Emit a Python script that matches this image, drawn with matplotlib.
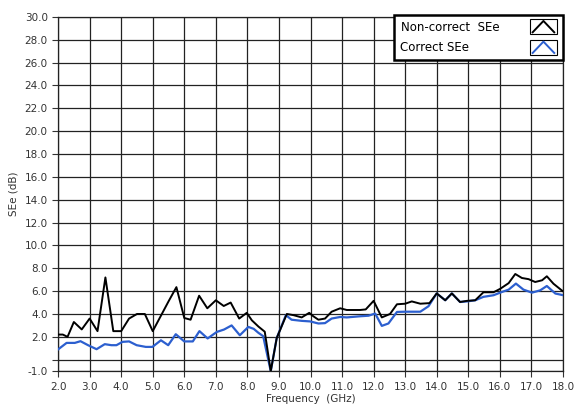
import matplotlib
matplotlib.use("Agg")
import matplotlib.pyplot as plt
import numpy as np
from matplotlib.legend_handler import HandlerBase
from matplotlib.lines import Line2D
from matplotlib.patches import Rectangle

# Non-correct SEe (black trace)
freq_raw = [2.0, 2.15, 2.3, 2.5, 2.75, 3.0, 3.25, 3.5, 3.75, 4.0, 4.25, 4.5, 4.75,
            5.0, 5.25, 5.5, 5.75, 6.0, 6.2, 6.47, 6.73, 7.0, 7.25, 7.47, 7.74, 7.98,
            8.14, 8.35, 8.55, 8.74, 8.93, 9.25, 9.46, 9.72, 9.96, 10.09, 10.25, 10.46,
            10.67, 10.94, 11.15, 11.57, 11.75, 12.0, 12.26, 12.52, 12.74, 13.0, 13.21,
            13.48, 13.77, 14.0, 14.27, 14.48, 14.74, 14.96, 15.22, 15.48, 15.8, 16.01,
            16.28, 16.49, 16.7, 16.91, 17.12, 17.34, 17.49, 17.7, 17.97, 18.0]
see_raw = [2.2, 2.2, 2.0, 3.3, 2.65, 3.6, 2.5, 7.2, 2.5, 2.5, 3.6, 4.0, 4.0,
           2.5, 3.8, 5.1, 6.35, 3.65, 3.5, 5.6, 4.5, 5.2, 4.7, 5.0, 3.6, 4.1,
           3.45, 2.9, 2.45, -1.0, 1.9, 4.0, 3.9, 3.7, 4.1, 3.8, 3.5, 3.6,
           4.2, 4.5, 4.35, 4.35, 4.4, 5.15, 3.7, 4.0, 4.85, 4.9, 5.1,
           4.9, 4.95, 5.8, 5.2, 5.8, 5.05, 5.15, 5.2, 5.9, 5.9, 6.2,
           6.7, 7.5, 7.15, 7.05, 6.8, 6.95, 7.3, 6.65, 6.05, 6.0]

# Correct SEe (blue trace)
freq_cor = [2.0, 2.27, 2.53, 2.71, 2.95, 3.22, 3.48, 3.69, 3.85, 4.04, 4.25, 4.49,
            4.78, 4.99, 5.26, 5.49, 5.73, 6.0, 6.27, 6.48, 6.74, 7.03, 7.26, 7.5,
            7.76, 8.03, 8.2, 8.35, 8.5, 8.74, 8.93, 9.22, 9.4, 9.72, 9.99, 10.25,
            10.46, 10.67, 10.94, 11.15, 11.57, 11.84, 12.05, 12.26, 12.47, 12.74,
            13.0, 13.48, 13.74, 14.0, 14.27, 14.48, 14.74, 14.96, 15.22, 15.48,
            15.8, 16.07, 16.28, 16.51, 16.75, 17.02, 17.28, 17.49, 17.76, 18.0]
see_cor = [0.9, 1.47, 1.47, 1.62, 1.27, 0.92, 1.36, 1.27, 1.27, 1.56, 1.6, 1.27,
           1.12, 1.12, 1.7, 1.27, 2.23, 1.6, 1.6, 2.5, 1.86, 2.43, 2.64, 3.0,
           2.14, 2.87, 2.7, 2.35, 2.06, -1.0, 1.9, 3.9, 3.5, 3.4, 3.35, 3.17,
           3.2, 3.6, 3.74, 3.7, 3.8, 3.85, 4.04, 2.96, 3.17, 4.18,
           4.2, 4.2, 4.68, 5.8, 5.2, 5.8, 5.05, 5.1, 5.2, 5.5,
           5.64, 5.93, 6.13, 6.66, 6.13, 5.87, 6.07, 6.45, 5.79, 5.65]

series_labels = ["Non-correct  SEe", "Correct SEe"]
x_ticks = np.arange(2, 19, 1)
y_ticks = [-1.0, 0.0] + list(np.arange(2, 31, 2))

BLUE = "#2c5fcf"


class CaretHandler(HandlerBase):
    def create_artists(self, legend, orig_handle, xdescent, ydescent,
                       width, height, fontsize, trans):
        x0, y0 = -xdescent, -ydescent
        box = Rectangle((x0, y0 - 1.5), width, height + 3, fill=False,
                        edgecolor="black", linewidth=0.8, transform=trans)
        xs = [x0 + 2, x0 + width / 2, x0 + width - 2]
        ys = [y0, y0 + height, y0]
        line = Line2D(xs, ys, color=orig_handle.get_color(), linewidth=1.4,
                      transform=trans)
        return [box, line]


def make_legend(ax, labels):
    h1 = Line2D([], [], color="black")
    h2 = Line2D([], [], color=BLUE)
    leg = ax.legend([h1, h2], labels,
                    handler_map={Line2D: CaretHandler()},
                    loc="upper right", bbox_to_anchor=(1.0, 1.006),
                    markerfirst=False, fontsize=8.5, frameon=True, fancybox=False,
                    handlelength=2.3, handleheight=1.1, borderpad=0.5,
                    labelspacing=0.65, handletextpad=2.6, borderaxespad=0.0)
    leg.get_frame().set_edgecolor("black")
    leg.get_frame().set_linewidth(1.8)
    leg.get_frame().set_alpha(1.0)
    return leg


fig = plt.figure(figsize=(5.75, 4.11), dpi=100)
ax = fig.add_axes([0.101, 0.097, 0.878, 0.862])

ax.plot(freq_cor, see_cor, color=BLUE, linewidth=1.6, zorder=3)
ax.plot(freq_raw, see_raw, color="black", linewidth=1.4, zorder=4)

ax.set_xlim(2.0, 18.0)
ax.set_ylim(-1.0, 30.0)
ax.set_xticks(x_ticks)
ax.set_xticklabels([f"{v:.1f}" for v in x_ticks])
ax.set_yticks(y_ticks)
ax.set_yticklabels(["-1.0", ""] + [f"{v:.1f}" for v in y_ticks[2:]])
ax.tick_params(direction="out", length=4, width=0.8, labelsize=7.5,
               labelcolor="#333333", color="#333333")
ax.grid(True, color="#222222", linewidth=0.9)
ax.set_axisbelow(True)
for spine in ax.spines.values():
    spine.set_color("#222222")
    spine.set_linewidth(0.9)

ax.set_xlabel("Frequency  (GHz)", fontsize=7.5, color="#333333", labelpad=2)
ax.set_ylabel("SEe (dB)", fontsize=7.5, color="#333333", labelpad=4)

# legend labels are left aligned in the original: pad the short one with spaces
leg = make_legend(ax, series_labels)
renderer = fig.canvas.get_renderer()
widths = [t.get_window_extent(renderer).width for t in leg.get_texts()]
probe = leg.get_texts()[1]
probe.set_text(series_labels[1] + " " * 10)
w10 = probe.get_window_extent(renderer).width
per_space = (w10 - widths[1]) / 10
n_pad = int(round((widths[0] - widths[1]) / per_space)) if per_space > 0 else 0
leg.remove()
make_legend(ax, [series_labels[0], series_labels[1] + " " * n_pad])

fig.savefig("out.png", dpi=100)
